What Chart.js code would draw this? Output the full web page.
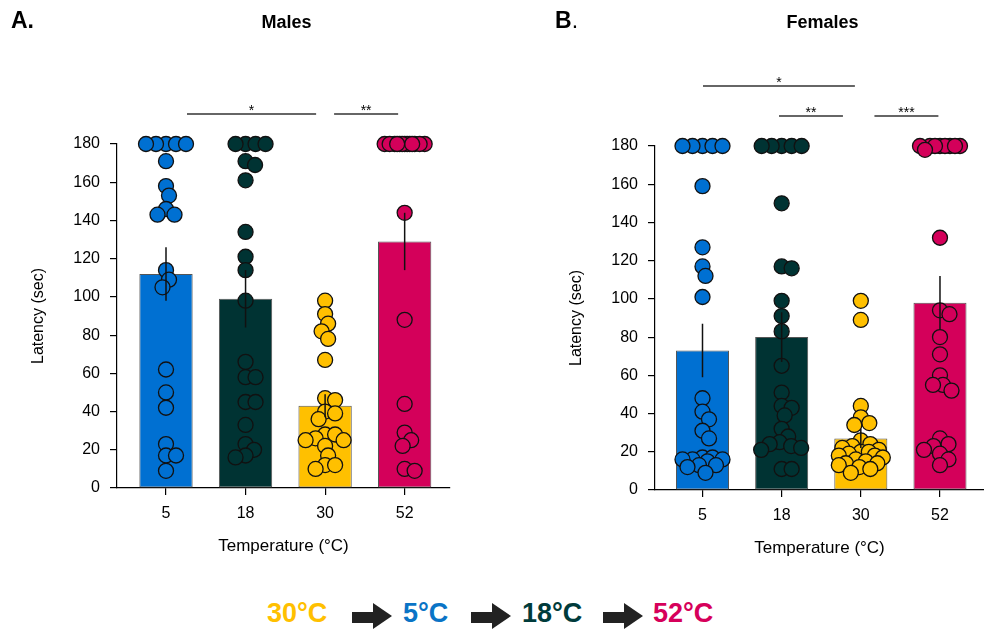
<!DOCTYPE html>
<html><head><meta charset="utf-8">
<script src="https://cdn.jsdelivr.net/npm/chart.js@4.4.0/dist/chart.umd.min.js"></script>
<style>
html,body{margin:0;padding:0;background:#fff;width:984px;height:632px;overflow:hidden;font-family:"Liberation Sans",Arial,sans-serif;}
#wrap{position:relative;width:984px;height:632px;}
canvas{position:absolute;top:0;}
#c1{left:0}
#c2{left:492px}
.lab{position:absolute;top:9px;font-size:23px;line-height:23px;color:#000;}
.seq{position:absolute;top:600px;font-weight:bold;font-size:27px;line-height:27px;white-space:nowrap;}
.arrow{position:absolute;top:603px;width:40px;height:27px;}
.arrow .shaft{position:absolute;left:0;top:9px;width:22px;height:11px;background:#222;}
.arrow .head{position:absolute;left:21px;top:0;width:0;height:0;border-top:13.5px solid transparent;border-bottom:13.5px solid transparent;border-left:19px solid #222;}
</style></head>
<body>
<div id="wrap">
<canvas id="c1" width="492" height="570"></canvas>
<canvas id="c2" width="492" height="570"></canvas>
<div class="lab" style="left:11px"><b>A.</b></div>
<div class="lab" style="left:555px"><b>B</b>.</div>
<div class="seq" style="left:267px;color:#FFC000">30°C</div>
<div class="arrow" style="left:352px"><div class="shaft"></div><div class="head"></div></div>
<div class="seq" style="left:403px;color:#0A74C6">5°C</div>
<div class="arrow" style="left:471px"><div class="shaft"></div><div class="head"></div></div>
<div class="seq" style="left:522px;color:#003B3B">18°C</div>
<div class="arrow" style="left:603px"><div class="shaft"></div><div class="head"></div></div>
<div class="seq" style="left:653px;color:#D6005A">52°C</div>
</div>
<script>
// ---------- data ----------
const categories = ['5', '18', '30', '52'];
const yTicks = [0, 20, 40, 60, 80, 100, 120, 140, 160, 180];

const maleMeans = [112, 99, 43, 129];
const maleSEM = [14, 15, 6, 15];
const male5 = [180,180,180,180,180,171,158,153,146,143,143,114,109,105,62,50,42,23,17,17,9];
const male18 = [180,180,180,180,171,169,161,134,121,114,98,66,58,58,45,45,33,23,20,17,16];
const male30 = [98,91,86,82,78,67,47,46,40,39,36,28,28,26,25,25,22,17,12,12,10];
const male52 = [180,180,180,180,180,180,180,180,180,180,180,180,180,144,88,44,29,25,22,10,9];

const femaleMeans = [73, 80, 27, 98];
const femaleSEM = [14, 13, 5, 14];
const female5 = [180,180,180,180,180,159,127,117,112,101,48,41,37,31,27,17,17,16,16,16,15,13,13,12,9];
const female18 = [180,180,180,180,180,150,117,116,99,91,83,65,51,44,43,39,32,28,25,24,23,22,21,11,11];
const female30 = [99,89,44,38,35,34,26,24,23,22,21,20,20,19,18,18,17,16,15,14,14,13,12,11,9];
const female52 = [180,180,180,180,180,180,180,180,178,132,94,92,80,71,60,55,55,52,27,24,23,21,19,16,13];

const maleSig = ['*', '**'];
const femaleSig = ['*', '**', '***'];

// ---------- styles ----------
const FAMILY = '"Liberation Sans", Arial, sans-serif';
const barColors = ['#0070D2', '#003333', '#FFC000', '#D4005A'];
Chart.defaults.font.family = FAMILY;
Chart.defaults.color = '#000';

function makeChart(id, o) {
  const groups = o.groups;
  const datasets = [{
    type: 'bar',
    data: o.means.map((m, i) => ({x: i, y: m})),
    backgroundColor: barColors,
    borderColor: '#555',
    borderWidth: 1,
    borderSkipped: false,
    categoryPercentage: 1,
    barPercentage: 0.67,
    order: 2
  }];
  groups.forEach((g, i) => datasets.push({
    type: 'scatter',
    data: g.map(v => ({x: i, y: v})),
    backgroundColor: barColors[i],
    borderColor: '#111',
    borderWidth: 1.3,
    pointRadius: 7.5,
    clip: false,
    order: 1
  }));

  const annot = {
    id: 'annot_' + id,
    afterDatasetsDraw(chart) {
      const ctx = chart.ctx, xs = chart.scales.x, ys = chart.scales.y;
      ctx.save();
      ctx.strokeStyle = '#111';
      ctx.lineWidth = 1.5;
      o.means.forEach((m, i) => {
        const px = xs.getPixelForValue(i);
        ctx.beginPath();
        ctx.moveTo(px, ys.getPixelForValue(m - o.sem[i]));
        ctx.lineTo(px, ys.getPixelForValue(m + o.sem[i]));
        ctx.stroke();
      });
      ctx.restore();
    },
    afterDraw(chart) {
      const ctx = chart.ctx, xs = chart.scales.x, ys = chart.scales.y, ca = chart.chartArea;
      ctx.save();
      ctx.fillStyle = '#000';
      ctx.font = 'bold 18px ' + FAMILY;
      ctx.textAlign = 'center';
      ctx.textBaseline = 'alphabetic';
      ctx.fillText(o.title, (ca.left + ca.right) / 2 + 3, 28);
      ctx.strokeStyle = '#333';
      ctx.lineWidth = 1.3;
      ctx.font = '14px ' + FAMILY;
      o.brackets.forEach((b, k) => {
        const x0 = xs.getPixelForValue(b[0]), x1 = xs.getPixelForValue(b[1]);
        const y = ys.getPixelForValue(b[2]);
        ctx.beginPath();
        ctx.moveTo(x0, y); ctx.lineTo(x1, y);
        ctx.stroke();
        ctx.fillText(o.sig[k], (x0 + x1) / 2, y + 1);
      });
      ctx.restore();
    }
  };

  const chart = new Chart(document.getElementById(id), {
    type: 'bar',
    data: {datasets},
    plugins: [annot],
    options: {
      responsive: false,
      animation: false,
      layout: {autoPadding: false, padding: {top: o.top, right: o.right, left: 0, bottom: 0}},
      plugins: {legend: {display: false}, tooltip: {enabled: false}, title: {display: false}},
      scales: {
        x: {
          type: 'linear', min: o.xmin, max: o.xmax, offset: false,
          afterBuildTicks: s => { s.ticks = categories.map((c, i) => ({value: i})); },
          ticks: {callback: v => categories[v], font: {size: 16}, padding: 9, maxRotation: 0, autoSkip: false},
          grid: {drawOnChartArea: false, drawTicks: true, tickLength: 7, color: '#000', lineWidth: 1.2, offset: false},
          border: {display: true, color: '#000', width: 1.2},
          title: {display: true, text: 'Temperature (°C)', font: {size: 17}, padding: {top: 0, bottom: o.xtb}},
          afterFit: s => { s.height = o.xh; s.paddingLeft = 0; s.paddingRight = 0; }
        },
        y: {
          type: 'linear', min: 0, max: 180,
          afterBuildTicks: s => { s.ticks = yTicks.map(v => ({value: v})); },
          ticks: {font: {size: 16}, padding: 10},
          grid: {drawOnChartArea: false, drawTicks: true, tickLength: 7, color: '#000', lineWidth: 1.2},
          border: {display: true, color: '#000', width: 1.2},
          title: {display: true, text: 'Latency (sec)', font: {size: 16}, padding: {top: o.ytp, bottom: 0}},
          afterFit: s => { s.width = o.yw; }
        }
      }
    }
  });

  // beeswarm placement of the dots (computed in pixel space)
  const xs = chart.scales.x, ys = chart.scales.y;
  const unit = xs.getPixelForValue(1) - xs.getPixelForValue(0);
  const D = 10, MAXS = 22, STEP = 0.5;
  groups.forEach((vals, gi) => {
    const placed = [];
    const offs = new Array(vals.length).fill(0);
    const idxs = vals.map((v, i) => i).sort((a, b) => vals[b] - vals[a]);
    idxs.forEach(idx => {
      const py = ys.getPixelForValue(vals[idx]);
      let chosen = null, best = -1, bestOff = 0;
      outer:
      for (let m = 0; m <= MAXS; m += STEP) {
        for (const s of (m === 0 ? [1] : [1, -1])) {
          const off = s * m;
          let md = Infinity;
          for (const p of placed) {
            const d = Math.hypot(p[0] - off, p[1] - py);
            if (d < md) md = d;
          }
          if (md >= D) { chosen = off; break outer; }
          if (md > best + 0.01) { best = md; bestOff = off; }
        }
      }
      if (chosen === null) chosen = bestOff;
      offs[idx] = chosen;
      placed.push([chosen, py]);
    });
    chart.data.datasets[gi + 1].data = vals.map((v, i) => ({x: gi + offs[i] / unit, y: v}));
  });
  chart.update('none');
  return chart;
}

makeChart('c1', {
  title: 'Males',
  groups: [male5, male18, male30, male52],
  means: maleMeans, sem: maleSEM, sig: maleSig,
  brackets: [[0.264, 1.887, 195.7], [2.113, 2.918, 195.7]],
  top: 144, right: 42, xh: 82, xtb: 13, yw: 117, ytp: 29,
  xmin: -0.616, xmax: 3.57
});
makeChart('c2', {
  title: 'Females',
  groups: [female5, female18, female30, female52],
  means: femaleMeans, sem: femaleSEM, sig: femaleSig,
  brackets: [[0.006, 1.925, 211.4], [0.966, 1.774, 195.7], [2.172, 2.98, 195.7]],
  top: 146, right: 0, xh: 80, xtb: 11, yw: 163, ytp: 75,
  xmin: -0.6, xmax: 3.556
});
</script>
</body></html>
